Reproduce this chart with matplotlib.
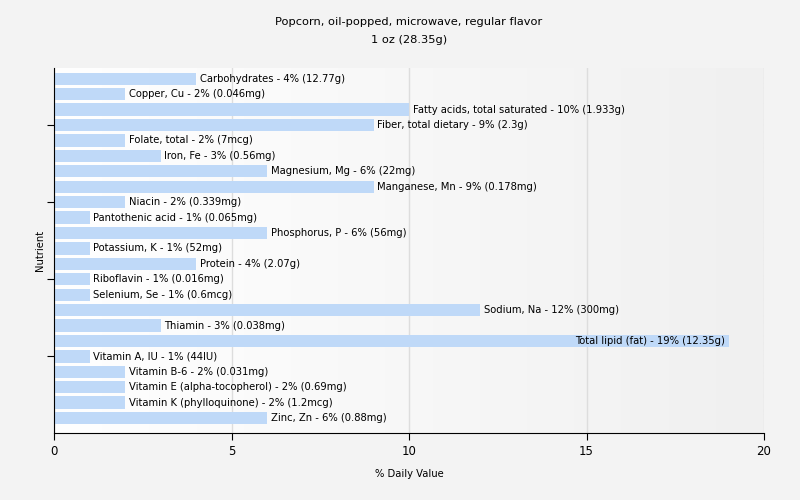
import numpy as np
import matplotlib.pyplot as plt
from matplotlib.colors import LinearSegmentedColormap

nutrients = ['Carbohydrates', 'Copper, Cu', 'Fatty acids, total saturated', 'Fiber, total dietary',
             'Folate, total', 'Iron, Fe', 'Magnesium, Mg', 'Manganese, Mn', 'Niacin',
             'Pantothenic acid', 'Phosphorus, P', 'Potassium, K', 'Protein', 'Riboflavin',
             'Selenium, Se', 'Sodium, Na', 'Thiamin', 'Total lipid (fat)', 'Vitamin A, IU',
             'Vitamin B-6', 'Vitamin E (alpha-tocopherol)', 'Vitamin K (phylloquinone)', 'Zinc, Zn']
dv = [4, 2, 10, 9, 2, 3, 6, 9, 2, 1, 6, 1, 4, 1, 1, 12, 3, 19, 1, 2, 2, 2, 6]
amounts = ['12.77g', '0.046mg', '1.933g', '2.3g', '7mcg', '0.56mg', '22mg', '0.178mg', '0.339mg',
           '0.065mg', '56mg', '52mg', '2.07g', '0.016mg', '0.6mcg', '300mg', '0.038mg', '12.35g',
           '44IU', '0.031mg', '0.69mg', '1.2mcg', '0.88mg']

fig = plt.figure(figsize=(8, 5), dpi=100, facecolor='#f3f3f3')
ax = fig.add_axes([0.0675, 0.134, 0.8875, 0.73])

# plot area gradient, white to light grey
grad = np.linspace(0, 1, 512).reshape(1, -1)
cmap = LinearSegmentedColormap.from_list('g', ['#ffffff', '#f0f0f0'], N=512)
ax.imshow(grad, extent=[0, 20, 22.97, -0.7], aspect='auto', cmap=cmap, zorder=0)

y = np.arange(len(nutrients))
ax.barh(y, dv, height=0.8, color='#bfd9f8', zorder=2)

for i in range(len(nutrients)):
    txt = '%s - %d%% (%s)' % (nutrients[i], dv[i], amounts[i])
    if dv[i] > 15:
        ax.text(dv[i] - 0.1, i, txt, va='center', ha='right', fontsize=7.2, zorder=3)
    else:
        ax.text(dv[i] + 0.1, i, txt, va='center', ha='left', fontsize=7.2, zorder=3)

ax.set_xlim(0, 20)
ax.set_ylim(22.97, -0.7)
ax.set_xticks([0, 5, 10, 15, 20])
ax.set_yticks([3, 8, 13, 18])
ax.set_yticklabels([])
ax.grid(axis='x', color='#dddddd', linewidth=1, zorder=1)
ax.set_axisbelow(True)
for s in ['top', 'right']:
    ax.spines[s].set_visible(False)
ax.tick_params(axis='x', labelsize=8.5, length=5)
ax.tick_params(axis='y', length=5)

ax.set_xlabel('% Daily Value', fontsize=7.2, labelpad=8)
ax.set_ylabel('Nutrient', fontsize=7.2, labelpad=-2)
ax.set_title('Popcorn, oil-popped, microwave, regular flavor\n1 oz (28.35g)', fontsize=8.2,
             pad=18, linespacing=1.95)

fig.savefig('out.png', dpi=100, facecolor=fig.get_facecolor())
